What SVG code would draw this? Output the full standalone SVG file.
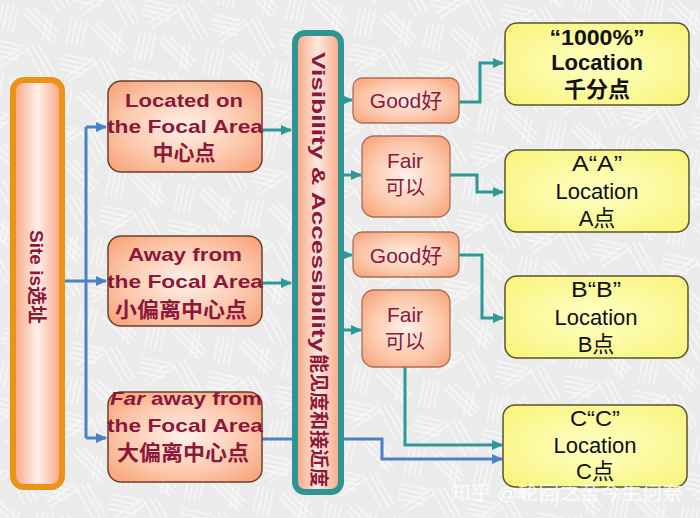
<svg xmlns="http://www.w3.org/2000/svg" width="700" height="518" viewBox="0 0 700 518">
<style>
.lat{font-family:"Liberation Sans",Arial,sans-serif}
.cjk{font-family:"Liberation Sans","Noto Sans CJK SC",sans-serif}
.red{fill:#8c1739;font-weight:bold}
.redn{fill:#8c1739}
.blk{fill:#111}
.teal{fill:none;stroke:#2e9898;stroke-width:3}
.blue{fill:none;stroke:#4a80c4;stroke-width:3}
.sbox{stroke:#6b3f2c;stroke-width:1.5}
.ybox{fill:url(#yg);stroke:#55552a;stroke-width:1.5}
</style>
<defs>
<pattern id="bgp" width="70" height="70" patternUnits="userSpaceOnUse" patternTransform="rotate(12)">
<rect width="70" height="70" fill="#ebebeb"/>
<g stroke="#fbfbfb" stroke-width="1.5" opacity="0.75">
<path d="M4 2V30M9 2V30M14 2V30M19 2V30"/>
<path d="M26 8L60 30M28 3L62 25M30 -2L64 20"/>
<path d="M2 40H30M2 45H30M2 50H30M2 55H30"/>
<path d="M40 36L66 66M45 34L70 62M35 40L60 69"/>
<path d="M10 62L34 38M14 66L38 42"/>
<path d="M50 5V30M55 5V30"/>
</g>
</pattern>
<linearGradient id="barO" x1="0" y1="0" x2="1" y2="0">
<stop offset="0" stop-color="#f8a27c"/><stop offset="0.5" stop-color="#fff0ea"/><stop offset="1" stop-color="#f8a27c"/>
</linearGradient>
<linearGradient id="barT" x1="0" y1="0" x2="1" y2="0">
<stop offset="0" stop-color="#f7a47e"/><stop offset="0.5" stop-color="#fde9e0"/><stop offset="1" stop-color="#f7a47e"/>
</linearGradient>
<radialGradient id="sg" cx="0.5" cy="0.5" r="0.65">
<stop offset="0" stop-color="#fff1ea"/><stop offset="0.6" stop-color="#fcc9ad"/><stop offset="1" stop-color="#f8a57c"/>
</radialGradient>
<radialGradient id="yg" cx="0.5" cy="0.5" r="0.7">
<stop offset="0" stop-color="#ffffc4"/><stop offset="1" stop-color="#f8f47a"/>
</radialGradient>
<marker id="at" markerUnits="userSpaceOnUse" markerWidth="12" markerHeight="12" refX="10" refY="6" orient="auto">
<path d="M0 1L11 6L0 11Z" fill="#2e9898"/>
</marker>
<marker id="ab" markerUnits="userSpaceOnUse" markerWidth="12" markerHeight="12" refX="10" refY="6" orient="auto">
<path d="M0 1L11 6L0 11Z" fill="#4a80c4"/>
</marker>
</defs>
<rect width="700" height="518" fill="url(#bgp)"/>

<g id="connectors">
<path class="blue" d="M64 281H86"/>
<path class="blue" d="M86 127V438"/>
<path class="blue" d="M86 127H106" marker-end="url(#ab)"/>
<path class="blue" d="M86 281H106" marker-end="url(#ab)"/>
<path class="blue" d="M86 438H106" marker-end="url(#ab)"/>
<path class="teal" d="M262 130H291" marker-end="url(#at)"/>
<path class="teal" d="M262 283H291" marker-end="url(#at)"/>
<path class="teal" d="M344 100H352" marker-end="url(#at)"/>
<path class="teal" d="M344 175H361" marker-end="url(#at)"/>
<path class="teal" d="M344 255H352" marker-end="url(#at)"/>
<path class="teal" d="M344 330H361" marker-end="url(#at)"/>
<path class="teal" d="M459 102H480V63H503" marker-end="url(#at)"/>
<path class="teal" d="M450 175H477V192H503" marker-end="url(#at)"/>
<path class="teal" d="M459 255H482V318H503" marker-end="url(#at)"/>
<path class="teal" d="M405 367V445H502" marker-end="url(#at)"/>
<path class="blue" d="M262 439H382V459H502" marker-end="url(#ab)"/>
</g>

<g id="site">
<rect x="13" y="80" width="49" height="407" rx="11" fill="url(#barO)" stroke="#ec9216" stroke-width="6"/>
<text class="cjk red" font-size="19" text-anchor="middle" transform="translate(37,277) rotate(90)" y="7">Site is选址</text>
</g>

<g id="focal">
<rect class="sbox" x="108" y="81" width="154" height="91" rx="13" fill="url(#sg)"/>
<text class="lat red" font-size="19" x="184" y="107" text-anchor="middle" textLength="118" lengthAdjust="spacingAndGlyphs">Located on</text>
<text class="lat red" font-size="19" x="185" y="133" text-anchor="middle" textLength="156" lengthAdjust="spacingAndGlyphs">the Focal Area</text>
<text class="cjk red" font-size="21" x="184" y="160" text-anchor="middle">中心点</text>
</g>

<g id="away">
<rect class="sbox" x="108" y="236" width="154" height="90" rx="13" fill="url(#sg)"/>
<text class="lat red" font-size="19" x="185" y="261" text-anchor="middle" textLength="114" lengthAdjust="spacingAndGlyphs">Away from</text>
<text class="lat red" font-size="19" x="185" y="288" text-anchor="middle" textLength="156" lengthAdjust="spacingAndGlyphs">the Focal Area</text>
<text class="cjk red" font-size="21" x="181" y="317" text-anchor="middle" textLength="132" lengthAdjust="spacingAndGlyphs">小偏离中心点</text>
</g>

<g id="faraway">
<rect class="sbox" x="108" y="392" width="154" height="90" rx="13" fill="url(#sg)"/>
<text class="lat red" font-size="19" x="186" y="405" text-anchor="middle" textLength="152" lengthAdjust="spacingAndGlyphs"><tspan font-style="italic">Far</tspan> away from</text>
<text class="lat red" font-size="19" x="185" y="432" text-anchor="middle" textLength="156" lengthAdjust="spacingAndGlyphs">the Focal Area</text>
<text class="cjk red" font-size="21" x="183" y="460" text-anchor="middle" textLength="132" lengthAdjust="spacingAndGlyphs">大偏离中心点</text>
</g>

<g id="visibility">
<rect x="295" y="33" width="46" height="459" rx="10" fill="url(#barT)" stroke="#2e9494" stroke-width="6"/>
<text class="lat red" font-size="18" transform="translate(318,52) rotate(90)" y="6" textLength="300" lengthAdjust="spacingAndGlyphs">Visibility  &amp; Accessibility</text>
<text class="cjk red" font-size="19" transform="translate(318,354) rotate(90)" y="6" textLength="133" lengthAdjust="spacingAndGlyphs">能见度和接近度</text>
</g>

<g id="good1">
<rect x="353" y="78" width="106" height="45" rx="9" fill="url(#sg)" stroke="#a86f58" stroke-width="1.3"/>
<text class="cjk redn" font-size="21" x="406" y="108" text-anchor="middle">Good好</text>
</g>
<g id="fair1">
<rect x="362" y="136" width="88" height="81" rx="12" fill="url(#sg)" stroke="#a86f58" stroke-width="1.3"/>
<text class="lat redn" font-size="21" x="405" y="168" text-anchor="middle">Fair</text>
<text class="cjk redn" font-size="20" x="405" y="195" text-anchor="middle">可以</text>
</g>
<g id="good2">
<rect x="353" y="232" width="106" height="45" rx="9" fill="url(#sg)" stroke="#a86f58" stroke-width="1.3"/>
<text class="cjk redn" font-size="21" x="406" y="263" text-anchor="middle">Good好</text>
</g>
<g id="fair2">
<rect x="362" y="290" width="88" height="77" rx="12" fill="url(#sg)" stroke="#a86f58" stroke-width="1.3"/>
<text class="lat redn" font-size="21" x="405" y="322" text-anchor="middle">Fair</text>
<text class="cjk redn" font-size="20" x="405" y="349" text-anchor="middle">可以</text>
</g>

<g id="loc1000">
<rect class="ybox" x="505" y="23" width="184" height="82" rx="12"/>
<text class="lat blk" font-size="22" font-weight="bold" x="597" y="45" text-anchor="middle" textLength="95" lengthAdjust="spacingAndGlyphs">“1000%”</text>
<text class="lat blk" font-size="22" font-weight="bold" x="597" y="70" text-anchor="middle">Location</text>
<text class="cjk blk" font-size="22" font-weight="bold" x="597" y="97" text-anchor="middle">千分点</text>
</g>
<g id="locA">
<rect class="ybox" x="505" y="150" width="184" height="82" rx="12"/>
<text class="lat blk" font-size="22" x="597" y="171" text-anchor="middle" textLength="50" lengthAdjust="spacingAndGlyphs">A“A”</text>
<text class="lat blk" font-size="22" x="597" y="199" text-anchor="middle">Location</text>
<text class="cjk blk" font-size="22" x="597" y="226" text-anchor="middle">A点</text>
</g>
<g id="locB">
<rect class="ybox" x="505" y="276" width="183" height="82" rx="12"/>
<text class="lat blk" font-size="22" x="596" y="297" text-anchor="middle" textLength="50" lengthAdjust="spacingAndGlyphs">B“B”</text>
<text class="lat blk" font-size="22" x="596" y="325" text-anchor="middle">Location</text>
<text class="cjk blk" font-size="22" x="596" y="352" text-anchor="middle">B点</text>
</g>
<g id="locC">
<rect class="ybox" x="503" y="405" width="184" height="82" rx="12"/>
<text class="lat blk" font-size="22" x="595" y="426" text-anchor="middle" textLength="50" lengthAdjust="spacingAndGlyphs">C“C”</text>
<text class="lat blk" font-size="22" x="595" y="453" text-anchor="middle">Location</text>
<text class="cjk blk" font-size="22" x="595" y="479" text-anchor="middle">C点</text>
</g>

<text class="cjk" font-size="19" x="450" y="500" fill="#ffffff" fill-opacity="0.85" textLength="233" lengthAdjust="spacingAndGlyphs">知乎 @轮回之苦今生何奈</text>
</svg>
